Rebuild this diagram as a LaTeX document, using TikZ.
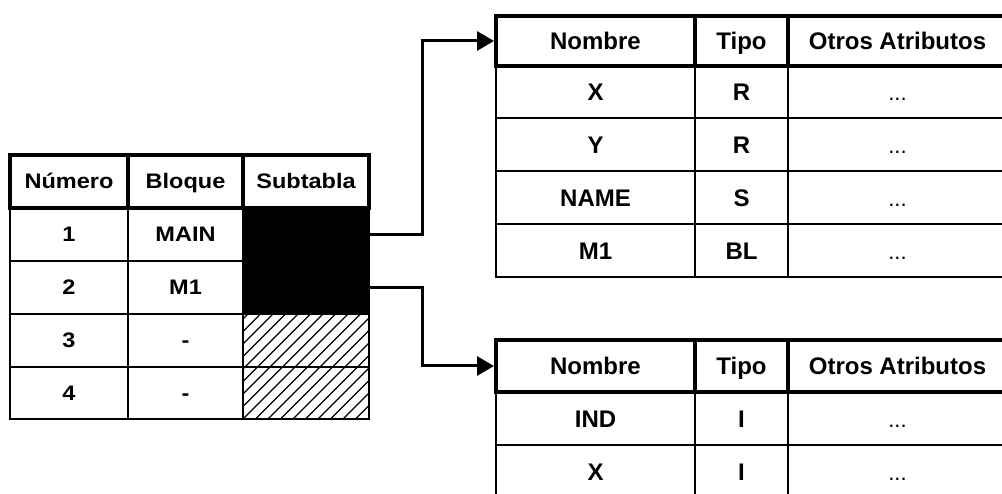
\documentclass[tikz,border=0pt]{standalone}
\usepackage{fontspec}
\setmainfont{Liberation Sans}
\newfontfamily\lfont{Liberation Sans}[FakeStretch=1.12]
\usetikzlibrary{arrows.meta}
\newcommand\tcell[7]{%
  \node[cellbase,#6,minimum width={#4-#2},minimum height={#5-#3}] (#1) at ({(#2+#4)/2},{(#3+#5)/2}) {#7};}
\tikzset{
  cellbase/.style={rectangle,draw=black,inner sep=0pt,outer sep=0pt,line width=2pt},
  lt/.style={font=\lfont\fontsize{21}{25}\selectfont\bfseries,text height=15pt,text depth=0pt},
  rt/.style={font=\fontsize{24}{28}\selectfont\bfseries,text height=17.2pt,text depth=0pt},
  dots/.style={font=\fontsize{22}{26}\selectfont,text height=17.2pt,text depth=0pt},
  headcell/.style={line width=4pt},
  blackcell/.style={fill=black},
  conn/.style={line width=3pt,line join=miter,shorten >=2pt,-{Triangle[length=17pt,width=19pt]}},
  hatch/.style={line width=1.2pt},
}
\begin{document}
\begin{tikzpicture}[x=1pt,y=-1pt]
\useasboundingbox (0,0) rectangle (1002,494);
\fill[white] (0,0) rectangle (1002,494);
\clip (0,0) rectangle (1002,494);
% ---------- left table ----------
\tcell{L-1-0}{10}{208}{128}{261}{lt}{1}
\tcell{L-1-1}{128}{208}{243}{261}{lt}{MAIN}
\tcell{L-1-2}{243}{208}{369}{261}{blackcell}{}
\tcell{L-2-0}{10}{261}{128}{314}{lt}{2}
\tcell{L-2-1}{128}{261}{243}{314}{lt}{M1}
\tcell{L-2-2}{243}{261}{369}{314}{blackcell}{}
\tcell{L-3-0}{10}{314}{128}{367}{lt}{3}
\tcell{L-3-1}{128}{314}{243}{367}{lt}{-}
\tcell{L-4-0}{10}{367}{128}{419}{lt}{4}
\tcell{L-4-1}{128}{367}{243}{419}{lt}{-}
\begin{scope}
  \clip (243,314) rectangle (369,419);
  \foreach \k in {-9,...,11} {
    \draw[hatch] ({243+\k*12.5},419) -- ++(120,-120);
  }
\end{scope}
\tcell{L-3-2}{243}{314}{369}{367}{}{}
\tcell{L-4-2}{243}{367}{369}{419}{}{}
\tcell{L-0-0}{10}{155}{128}{208}{lt,headcell}{Número}
\tcell{L-0-1}{128}{155}{243}{208}{lt,headcell}{Bloque}
\tcell{L-0-2}{243}{155}{369}{208}{lt,headcell}{Subtabla}
% ---------- top right table ----------
\tcell{T-1-0}{496}{66}{695}{118}{rt}{X}
\tcell{T-1-1}{695}{66}{788}{118}{rt}{R}
\tcell{T-1-2}{788}{66}{1007}{118}{dots}{...}
\tcell{T-2-0}{496}{118}{695}{171}{rt}{Y}
\tcell{T-2-1}{695}{118}{788}{171}{rt}{R}
\tcell{T-2-2}{788}{118}{1007}{171}{dots}{...}
\tcell{T-3-0}{496}{171}{695}{224}{rt}{NAME}
\tcell{T-3-1}{695}{171}{788}{224}{rt}{S}
\tcell{T-3-2}{788}{171}{1007}{224}{dots}{...}
\tcell{T-4-0}{496}{224}{695}{277}{rt}{M1}
\tcell{T-4-1}{695}{224}{788}{277}{rt}{BL}
\tcell{T-4-2}{788}{224}{1007}{277}{dots}{...}
\tcell{T-0-0}{496}{16}{695}{66}{rt,headcell}{Nombre}
\tcell{T-0-1}{695}{16}{788}{66}{rt,headcell}{Tipo}
\tcell{T-0-2}{788}{16}{1007}{66}{rt,headcell}{Otros Atributos}
% ---------- bottom right table ----------
\tcell{B-1-0}{496}{392}{695}{445}{rt}{IND}
\tcell{B-1-1}{695}{392}{788}{445}{rt}{I}
\tcell{B-1-2}{788}{392}{1007}{445}{dots}{...}
\tcell{B-2-0}{496}{445}{695}{498}{rt}{X}
\tcell{B-2-1}{695}{445}{788}{498}{rt}{I}
\tcell{B-2-2}{788}{445}{1007}{498}{dots}{...}
\tcell{B-0-0}{496}{340}{695}{392}{rt,headcell}{Nombre}
\tcell{B-0-1}{695}{340}{788}{392}{rt,headcell}{Tipo}
\tcell{B-0-2}{788}{340}{1007}{392}{rt,headcell}{Otros Atributos}
% ---------- connectors ----------
\draw[conn] (L-1-2.east) -- ++(53,0) |- (T-0-0.west);
\draw[conn] (L-2-2.east) -- ++(53,0) |- (B-0-0.west);
\end{tikzpicture}
\end{document}
